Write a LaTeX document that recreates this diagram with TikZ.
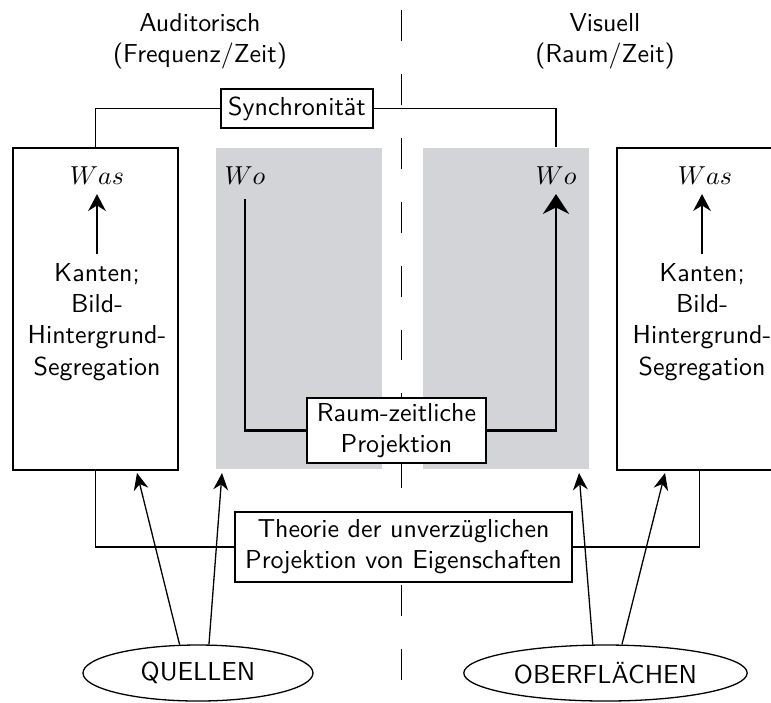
\documentclass[tikz,border=0pt]{standalone}
\usetikzlibrary{arrows.meta,shapes.geometric}
\definecolor{grau}{RGB}{211,212,215}
\begin{document}
\begin{tikzpicture}[x=0.385pt, y=-0.385pt, font=\sffamily,
  kasten/.style={draw, line width=0.7pt, fill=white, align=center, inner sep=0pt},
  feld/.style={fill=grau, inner sep=0pt, minimum width=166*\u, minimum height=321*\u},
  rahmen/.style={draw, line width=0.7pt, inner sep=0pt, minimum width=165*\u, minimum height=322*\u},
  linie/.style={line width=0.7pt},
  wopfad/.style={line width=1.1pt},
  pfeil/.style={line width=0.7pt, -{Stealth[length=6.5pt,width=6.8pt]}},
  quelle/.style={draw, ellipse, line width=0.5pt, minimum width=230*\u, minimum height=56*\u},
  strahl/.style={line width=0.5pt, -{Stealth[length=6.5pt,width=5.7pt]}}]
  \def\u{0.385pt}  % ein Bildpunkt
  \useasboundingbox (0,0) rectangle (771,702);

  % --- Kopfzeilen ---
  \node[align=center] (audi) at (200,41) {Auditorisch\\(Frequenz/Zeit)};
  \node[align=center] (visu) at (605,41) {Visuell\\(Raum/Zeit)};

  % --- Trennlinie ---
  \draw[line width=0.5pt, dash pattern=on 11.9pt off 12.7pt] (401.5,10) -- (401.5,702);

  % --- graue Felder (Wo) ---
  \node[feld] (lfeld) at (299,308.5) {};
  \node[feld] (rfeld) at (506,308.5) {};

  % --- Rahmen (Was) ---
  \node[rahmen] (lbox) at (95.5,309) {};
  \node[rahmen] (rbox) at (699.5,309) {};

  \node (lwas) at (97,176) {$Was$};
  \node (rwas) at (705,176) {$Was$};
  \node[align=center] (lkant) at (97,322) {Kanten;\\Bild-\\Hintergrund-\\Segregation};
  \node[align=center] (rkant) at (702,322) {Kanten;\\Bild-\\Hintergrund-\\Segregation};
  \draw[pfeil] (lkant.north) -- (lkant.north |- lwas.south);
  \draw[pfeil] (rkant.north) -- (rkant.north |- rwas.south);

  \node (lwo) at (245,176) {$Wo$};
  \node (rwo) at (556,176) {$Wo$};

  % --- Kaesten ---
  \node[kasten, minimum width=152*\u, minimum height=39*\u] (sync) at (297,108.5) {Synchronität};
  \node[kasten, minimum width=179*\u, minimum height=65*\u] (raum) at (396.5,430.5)
    {Raum-zeitliche\\Projektion};
  \node[kasten, minimum width=337*\u, minimum height=70*\u] (theo) at (403.5,547)
    {Theorie der unverzüglichen\\Projektion von Eigenschaften};

  % --- Verbindungen ---
  \draw[linie] (lbox.north) |- (sync.west);
  \draw[linie] (sync.east) -| (rfeld.north -| rwo.south);
  \draw[wopfad] ([yshift=-2pt]lwo.south) |- (raum.west);
  \draw[wopfad, -{Stealth[length=7.6pt,width=10pt]}] (raum.east) -| (rwo.south);
  \draw[linie] (lbox.south) |- (theo.west);
  \draw[linie] (theo.east) -| (rbox.south);

  % --- Quellen und Oberflaechen ---
  \node[quelle] (quell) at (198,673) {QUELLEN};
  \node[quelle, minimum width=231*\u] (ober) at (605.5,673) {OBERFLÄCHEN};

  \coordinate (qa) at (137,473);
  \coordinate (qb) at (222,473);
  \coordinate (oa) at (579,473);
  \coordinate (ob) at (665,473);
  \draw[strahl] (quell.123) -- (qa);
  \draw[strahl] (quell.69) -- (qb);
  \draw[strahl] (ober.114) -- (oa);
  \draw[strahl] (ober.60) -- (ob);
\end{tikzpicture}
\end{document}
